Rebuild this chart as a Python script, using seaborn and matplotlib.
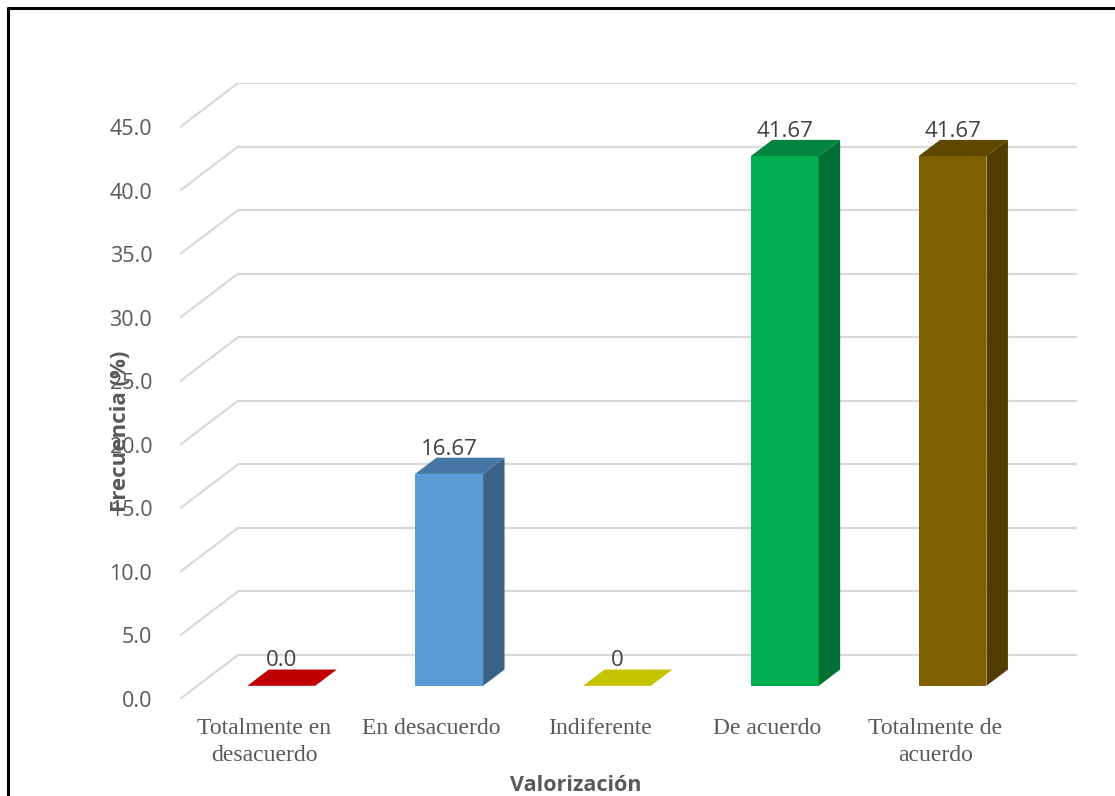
import matplotlib
matplotlib.use("Agg")
import matplotlib.pyplot as plt
import seaborn as sns
import pandas as pd
from matplotlib.lines import Line2D

# Data
categories = ["Totalmente en\ndesacuerdo", "En desacuerdo", "Indiferente",
              "De acuerdo", "Totalmente de\nacuerdo"]
values = [0.0, 16.67, 0.0, 41.67, 41.67]
value_labels = ["0.0", "16.67", "0", "41.67", "41.67"]
yticks = [0, 5, 10, 15, 20, 25, 30, 35, 40, 45]
ytick_labels = ["0.0", "5.0", "10.0", "15.0", "20.0", "25.0", "30.0", "35.0", "40.0", "45.0"]

front_colors = ["#C00000", "#5B9BD5", "#C4C400", "#00B050", "#7F6000"]
top_colors = ["#C00000", "#4676A6", "#C4C400", "#00853F", "#5F4700"]
side_colors = ["#8F0000", "#3A6287", "#999900", "#007033", "#513D00"]

sns.set_theme(style="white")
plt.rcParams["font.family"] = ["Open Sans", "DejaVu Sans"]

W, H = 1115, 796
fig = plt.figure(figsize=(W / 100, H / 100), dpi=100)

# 3D projection parameters (in data units)
DEPTH_X = 0.3457   # full depth shift along category axis
DEPTH_Y = 3.46     # full depth shift along value axis
BAR_D0 = 0.30      # bar front face depth fraction
BAR_D1 = 0.67      # bar back face depth fraction
YMAX = 48.5

left_px, right_px, bottom_px = 180, 1077, 699
top_px = bottom_px - YMAX * 12.71
ax = fig.add_axes([left_px / W, 1 - bottom_px / H,
                   (right_px - left_px) / W, (bottom_px - top_px) / H])

df = pd.DataFrame({"cat": categories, "val": values})
sns.barplot(data=df, x="cat", y="val", hue="cat", order=categories,
            hue_order=categories, palette=front_colors, width=0.405,
            legend=False, ax=ax, saturation=1, linewidth=0, zorder=3)

ax.set_xlim(-0.5, 4.5 + DEPTH_X)
ax.set_ylim(0, YMAX)

# Gridlines: back wall and left side diagonals
grid_c = "#D9D9D9"
for v in yticks:
    ax.add_line(Line2D([-0.5 + DEPTH_X, 4.5 + DEPTH_X], [v + DEPTH_Y, v + DEPTH_Y],
                       color=grid_c, lw=1.6, zorder=1))
    ax.add_line(Line2D([-0.5, -0.5 + DEPTH_X], [v, v + DEPTH_Y],
                       color=grid_c, lw=1.6, zorder=1))

# Shift bar fronts back and add side/top faces
ox0, oy0 = BAR_D0 * DEPTH_X, BAR_D0 * DEPTH_Y
bdx, bdy = (BAR_D1 - BAR_D0) * DEPTH_X, (BAR_D1 - BAR_D0) * DEPTH_Y
bars = sorted(ax.patches, key=lambda p: p.get_x())
for i, p in enumerate(bars):
    x0 = p.get_x() + ox0
    w = p.get_width()
    h = values[i]
    p.set_x(x0)
    p.set_y(oy0)
    p.set_height(h)
    x1 = x0 + w
    yb, yt = oy0, oy0 + h
    if h > 0:
        ax.fill([x1, x1 + bdx, x1 + bdx, x1], [yb, yb + bdy, yt + bdy, yt],
                color=side_colors[i], lw=0, zorder=3)
    ax.fill([x0, x1, x1 + bdx, x0 + bdx], [yt, yt, yt + bdy, yt + bdy],
            color=top_colors[i], lw=0, zorder=3)
    ax.text(x0 + w / 2, yt + bdy - 0.15, value_labels[i], ha="center", va="bottom",
            fontsize=16, color="#404040", zorder=4)

sns.despine(ax=ax, left=True, bottom=True)
ax.grid(False)
ax.set_facecolor("none")

ax.set_yticks(yticks)
ax.set_yticklabels(ytick_labels, fontsize=15.5, color="#595959")
ax.set_xticks(range(len(categories)))
ax.set_xticklabels(categories, fontsize=17, color="#595959",
                   family=["Liberation Serif", "DejaVu Serif"], linespacing=1.35)
ax.tick_params(axis="both", length=0)
ax.tick_params(axis="y", pad=20)
ax.tick_params(axis="x", pad=14)

ax.set_xlabel("Valorización", fontsize=15.5, fontweight="bold", color="#595959")
ax.xaxis.set_label_coords((576 - left_px) / (right_px - left_px), -(775 - bottom_px) / (bottom_px - top_px))
ax.set_ylabel("Frecuencia (%)", fontsize=16, fontweight="bold", color="#595959")
ax.yaxis.set_label_coords(-(left_px - 131) / (right_px - left_px), (bottom_px - 431) / (bottom_px - top_px))

# Frame lines along top and left edges of the figure
fig.add_artist(Line2D([8 / W, 8 / W], [0, 1 - 8 / H], color="black", lw=2.2,
                      transform=fig.transFigure))
fig.add_artist(Line2D([8 / W, 1], [1 - 8 / H, 1 - 8 / H], color="black", lw=2.2,
                      transform=fig.transFigure))

fig.savefig("out.png", dpi=100)
